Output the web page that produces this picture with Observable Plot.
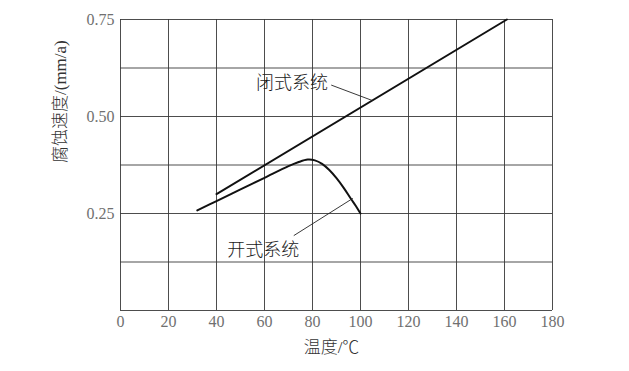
<!DOCTYPE html>
<html>
<head>
<meta charset="utf-8">
<script src="https://cdn.jsdelivr.net/npm/d3@7"></script>
<script src="https://cdn.jsdelivr.net/npm/@observablehq/plot@0.6"></script>
<style>
  html, body { margin: 0; padding: 0; background: #fff; }
</style>
</head>
<body>
<div id="chart"></div>
<script>
// Closed system (闭式系统): straight line
const closedT = [40, 161];
const closedV = [0.30, 0.75];

// Open system (开式系统): rises then falls
const openT = [32, 40, 50, 60, 70, 74, 78, 81, 84, 87, 90, 93, 96, 98, 100];
const openV = [0.258, 0.282, 0.312, 0.342, 0.372, 0.382, 0.389, 0.387, 0.378, 0.362, 0.341, 0.316, 0.288, 0.27, 0.25];

// Axis ticks and grid
const xTicks = [0, 20, 40, 60, 80, 100, 120, 140, 160, 180];
const yTicks = [0.25, 0.50, 0.75];
const yGrid = [0, 0.125, 0.25, 0.375, 0.5, 0.625, 0.75];

// Annotations (label, text anchor point, leader start, leader end)
const annLabels = ["闭式系统", "开式系统"];
const annTextT = [86.5, 44.5];
const annTextV = [0.585, 0.155];
const annAnchor = ["end", "start"];
const leaderFromT = [87.8, 72.2];
const leaderFromV = [0.581, 0.193];
const leaderToT = [105, 96.8];
const leaderToV = [0.541, 0.289];

const closed = closedT.map((t, i) => ({t, v: closedV[i]}));
const open = openT.map((t, i) => ({t, v: openV[i]}));
const anns = annLabels.map((s, i) => ({s, t: annTextT[i], v: annTextV[i], a: annAnchor[i]}));
const leaders = annLabels.map((s, i) => ({x1: leaderFromT[i], y1: leaderFromV[i], x2: leaderToT[i], y2: leaderToV[i]}));

const SERIF = "Liberation Serif";
const CJK = "Liberation Serif, Noto Sans CJK SC";
const gridColor = "#3a3a3a";

const chart = Plot.plot({
  width: 629,
  height: 371,
  marginLeft: 120,
  marginRight: 77,
  marginTop: 19,
  marginBottom: 61,
  style: {background: "#fff"},
  x: {domain: [0, 180]},
  y: {domain: [0, 0.75]},
  marks: [
    Plot.ruleX(xTicks, {stroke: gridColor, strokeWidth: 1, strokeOpacity: 0.9}),
    Plot.ruleY(yGrid, {stroke: gridColor, strokeWidth: 1, strokeOpacity: 0.9}),
    Plot.axisX({ticks: xTicks, tickSize: 0, tickPadding: 5, fontSize: 16, fill: "#707070", label: null, fontFamily: SERIF, fontVariant: "normal"}),
    Plot.axisY({ticks: yTicks, tickSize: 0, tickPadding: 6, fontSize: 16, fill: "#707070", label: null, tickFormat: d3.format(".2f"), fontFamily: SERIF, fontVariant: "normal"}),
    Plot.line(closed, {x: "t", y: "v", stroke: "#111", strokeWidth: 2}),
    Plot.line(open, {x: "t", y: "v", stroke: "#111", strokeWidth: 2, curve: "catmull-rom"}),
    Plot.link(leaders, {x1: "x1", y1: "y1", x2: "x2", y2: "y2", stroke: "#222", strokeWidth: 0.9}),
    Plot.text(anns.filter(d => d.a === "end"), {x: "t", y: "v", text: "s", textAnchor: "end", fontSize: 18, fill: "#1a1a1a", fontFamily: CJK, fontWeight: 300}),
    Plot.text(anns.filter(d => d.a === "start"), {x: "t", y: "v", text: "s", textAnchor: "start", fontSize: 18, fill: "#1a1a1a", fontFamily: CJK, fontWeight: 300}),
    Plot.text(["腐蚀速度/(mm/a)"], {frameAnchor: "left", dx: -60, dy: -2, rotate: -90, fontSize: 17, fill: "#333", fontFamily: CJK, fontWeight: 300}),
    Plot.text(["温度/℃"], {frameAnchor: "bottom", dx: -5, dy: 42, fontSize: 17, fill: "#333", fontFamily: CJK, fontWeight: 300})
  ]
});
document.getElementById("chart").appendChild(chart);
</script>
</body>
</html>
